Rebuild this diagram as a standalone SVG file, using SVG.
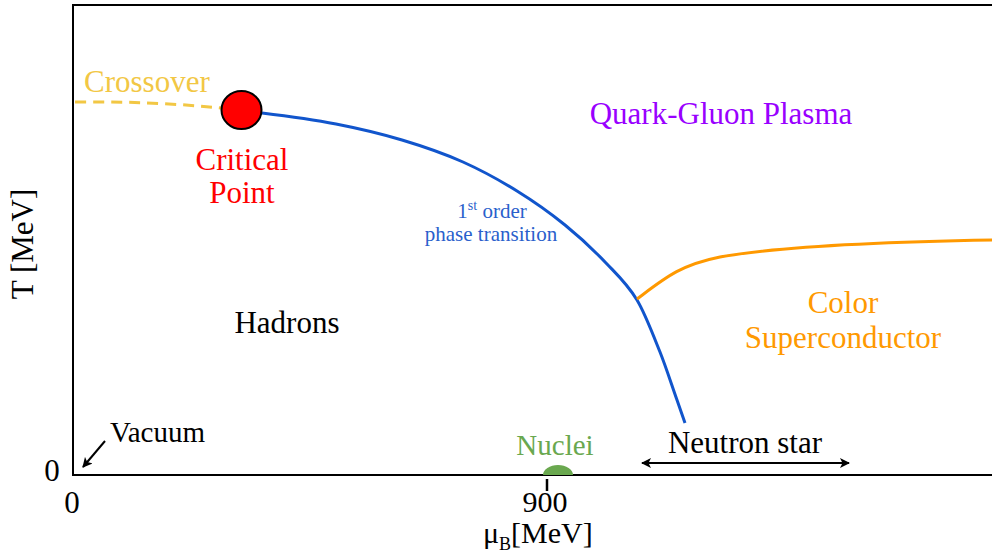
<svg xmlns="http://www.w3.org/2000/svg" width="992" height="555" viewBox="0 0 992 555" font-family="'Liberation Serif', 'DejaVu Serif', 'Times New Roman', serif" font-size="31">
<defs>
<marker id="ah" viewBox="0 0 10 10" refX="9" refY="5" markerWidth="5" markerHeight="5" orient="auto-start-reverse" markerUnits="strokeWidth">
<path d="M0,0 L10,5 L0,10 L2.5,5 Z" fill="#000"/>
</marker>
<style>
.mid{text-anchor:middle}
.axis{stroke:#000;stroke-width:2;fill:none}
</style>
</defs>
<rect width="992" height="555" fill="#fff"/>
<g id="axes">
<path class="axis" d="M992,5 H73 V475 H992"/>
<line x1="547" y1="479" x2="547" y2="491" stroke="#000" stroke-width="2.5"/>
<text x="52" y="481" class="mid">0</text>
<text x="72" y="513" class="mid">0</text>
<text x="545" y="512" class="mid" font-size="30">900</text>
<text x="483" y="543" font-size="30">μ<tspan dy="7" font-size="18">B</tspan><tspan dy="-7">[MeV]</tspan></text>
<text transform="translate(33,244) rotate(-90)" class="mid">T [MeV]</text>
</g>
<g id="connectors">
<path d="M75,102 Q150,101 221,108" fill="none" stroke="#f2c744" stroke-width="3" stroke-dasharray="11,7"/>
<path d="M262,113 C286.7,116 311.3,119.2 336,124 C358,128.3 380,133.4 402,140 C422.3,146.1 442.7,152.9 463,162 C481,170.1 499,179.8 517,191 C533,200.9 549,212 565,225 C578.7,236.1 592.3,248.6 606,263 C616.3,273.9 626.7,283 637,300 C644.7,312.7 652.3,332.8 660,352 C665.7,366.2 671.3,383.8 677,400 C679.7,407.6 682.3,415.3 685,423" fill="none" stroke="#1155cc" stroke-width="3"/>
<path d="M637,299 C665,278 680,265 720,257 C780,246 880,242 992,240" fill="none" stroke="#ff9900" stroke-width="3"/>
<line x1="105" y1="441" x2="83" y2="467" stroke="#000" stroke-width="2" marker-end="url(#ah)"/>
<line x1="642" y1="463" x2="849" y2="463" stroke="#000" stroke-width="2" marker-start="url(#ah)" marker-end="url(#ah)"/>
</g>
<g id="crossover"><text x="84" y="92" fill="#f2c744">Crossover</text></g>
<g id="critical-point">
<ellipse cx="241.5" cy="110" rx="20" ry="19" fill="#ff0000" stroke="#000" stroke-width="2"/>
<text x="242" y="170" class="mid" fill="#ff0000">Critical</text>
<text x="242" y="203" class="mid" fill="#ff0000">Point</text>
</g>
<g id="qgp"><text x="721" y="124" class="mid" fill="#9900ff">Quark-Gluon Plasma</text></g>
<g id="transition-label" fill="#2a5fcc" font-size="21">
<text x="492" y="218" class="mid">1<tspan dy="-8" font-size="14">st</tspan><tspan dy="8"> order</tspan></text>
<text x="491" y="241" class="mid">phase transition</text>
</g>
<g id="hadrons"><text x="287" y="333" class="mid">Hadrons</text></g>
<g id="color-superconductor" fill="#ff9900">
<text x="843" y="313" class="mid">Color</text>
<text x="843" y="348" class="mid">Superconductor</text>
</g>
<g id="vacuum"><text x="110" y="442" font-size="29">Vacuum</text></g>
<g id="nuclei">
<path d="M543,475 A15,10 0 0 1 573,475 Z" fill="#6aa84f"/>
<text x="555" y="455" class="mid" fill="#6aa84f" font-size="29">Nuclei</text>
</g>
<g id="neutron-star"><text x="745" y="453" class="mid">Neutron star</text></g>
</svg>
